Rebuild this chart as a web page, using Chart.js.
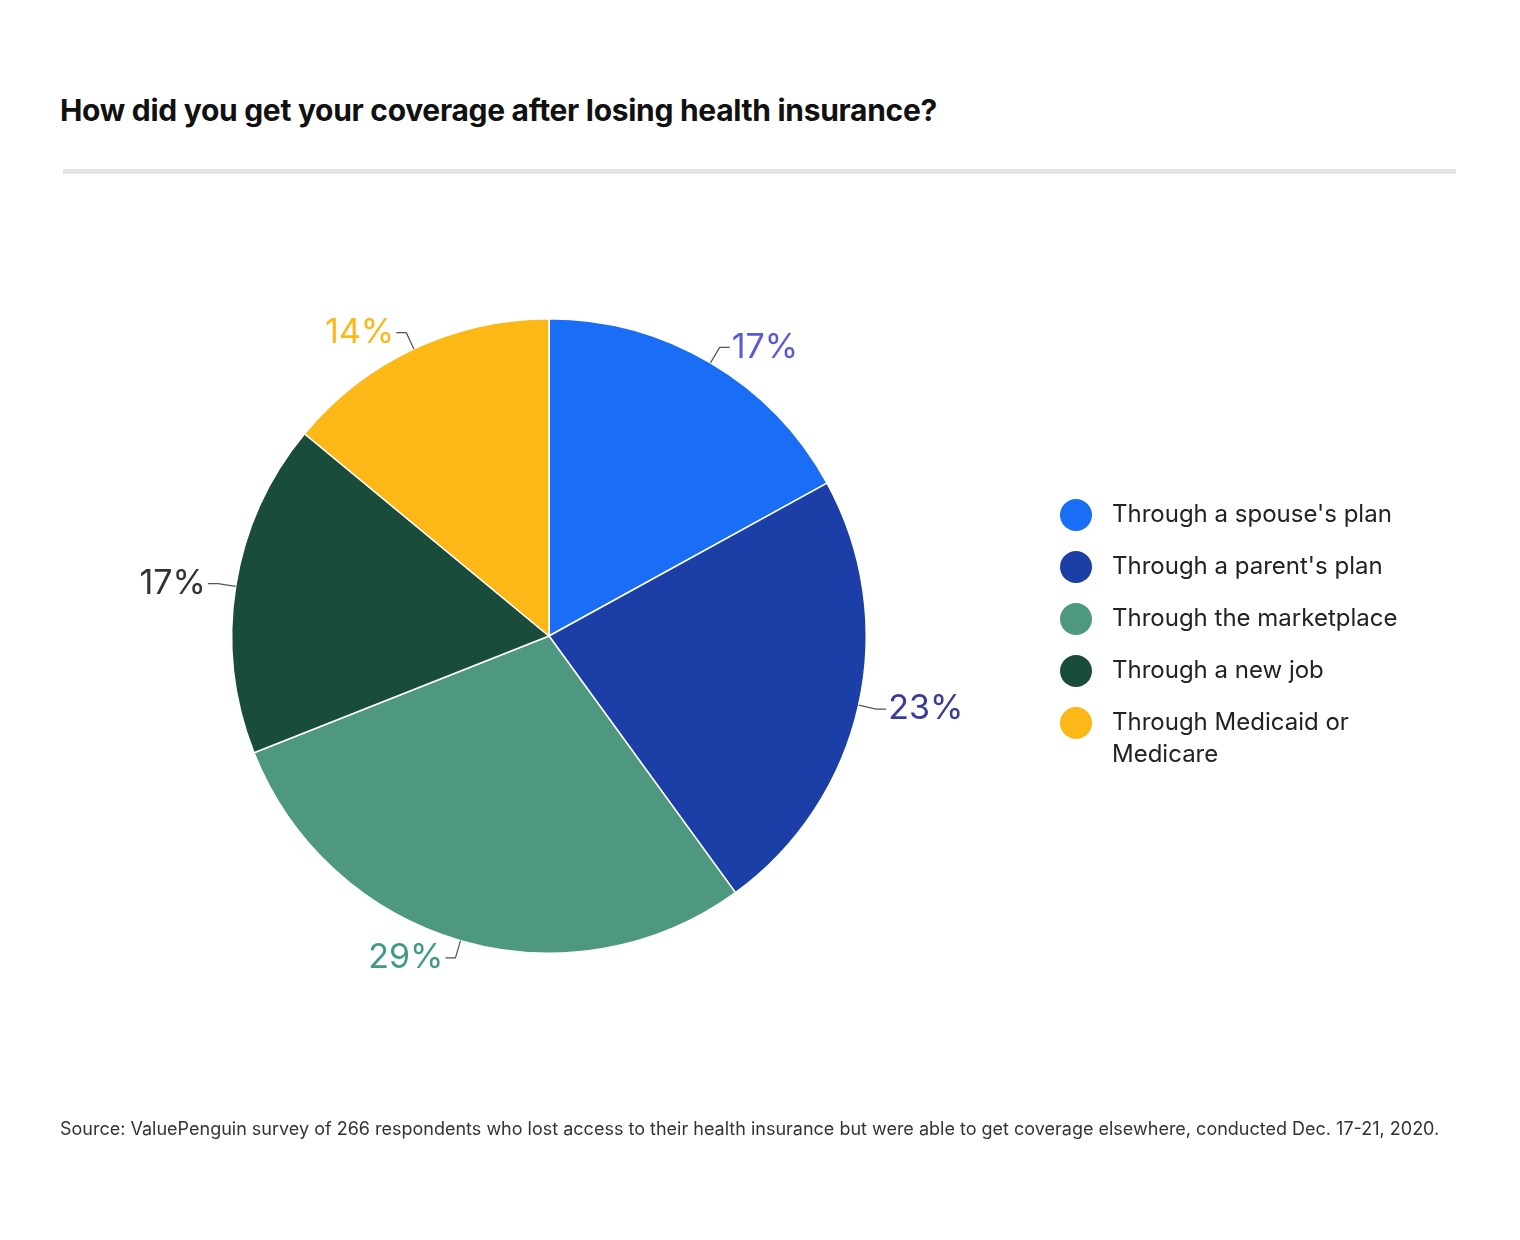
<!DOCTYPE html>
<html><head><meta charset="utf-8">
<script src="https://cdn.jsdelivr.net/npm/chart.js@4"></script>
<style>
body{margin:0;background:#fff;width:1520px;height:1240px;position:relative;overflow:hidden;font-family:Inter,Roboto,sans-serif}
#t{position:absolute;left:60px;top:92px;font-size:30px;font-weight:700;color:#111;letter-spacing:-0.3px}
#hr{position:absolute;left:63px;top:169px;width:1393px;height:5px;background:#e3e3e3}
#s{position:absolute;left:60px;top:1108px;width:1410px;font-size:18px;line-height:42px;color:#333}
#c{position:absolute;left:0;top:0}
</style></head><body>
<div id="t">How did you get your coverage after losing health insurance?</div>
<div id="hr"></div>
<canvas id="c" width="1520" height="1240"></canvas>
<div id="s">Source: ValuePenguin survey of 266 respondents who lost access to their health insurance but were able to get coverage elsewhere, conducted Dec. 17-21, 2020.</div>
<script>
const categories=["Through a spouse's plan","Through a parent's plan","Through the marketplace","Through a new job","Through Medicaid or Medicare"];
const values=[17,23,29,17,14];
const colors=["#1a6ef5","#1b3fa6","#4f9880","#1a4c3b","#fbb817"];
const labelColors=["#5a5ad8","#3a3a99","#3f9a85","#333333","#fbb817"];
const labelPlugin={id:'lbl',afterDatasetsDraw(ch){
 const ctx=ch.ctx;const meta=ch.getDatasetMeta(0);
 ctx.save();
 meta.data.forEach((a,i)=>{
  const mid=(a.startAngle+a.endAngle)/2,r=a.outerRadius,cx=a.x,cy=a.y;
  const c=Math.cos(mid),s=Math.sin(mid);
  const x1=cx+c*r,y1=cy+s*r,x2=cx+c*(r+18),y2=cy+s*(r+18);
  const right=c>=0;const x3=x2+(right?10:-10);
  ctx.strokeStyle='#555';ctx.lineWidth=1.2;ctx.beginPath();ctx.moveTo(x1,y1);ctx.lineTo(x2,y2);ctx.lineTo(x3,y2);ctx.stroke();
  ctx.fillStyle=labelColors[i];ctx.font='34px Inter, Roboto, sans-serif';ctx.textBaseline='middle';
  ctx.textAlign=right?'left':'right';ctx.fillText(values[i]+'%',x3+(right?2:-2),y2);
 });
 // legend
 const ys=[515,567,619,671,723];
 ctx.font='24px Inter, Roboto, sans-serif';ctx.textAlign='left';ctx.textBaseline='middle';
 categories.forEach((n,i)=>{
  ctx.fillStyle=colors[i];ctx.beginPath();ctx.arc(1076,ys[i],16,0,Math.PI*2);ctx.fill();
  ctx.fillStyle='#222';
  if(i===4){ctx.fillText('Through Medicaid or',1112,ys[i]);ctx.fillText('Medicare',1112,ys[i]+32);}
  else ctx.fillText(n,1112,ys[i]);
 });
 ctx.restore();
}};
new Chart(document.getElementById('c'),{type:'pie',
 data:{labels:categories,datasets:[{data:values,backgroundColor:colors,borderColor:'#ffffff',borderWidth:1.5}]},
 options:{responsive:false,animation:false,layout:{padding:{left:231,right:653,top:318,bottom:286}},
  plugins:{legend:{display:false},tooltip:{enabled:false}}},
 plugins:[labelPlugin]});
</script></body></html>
